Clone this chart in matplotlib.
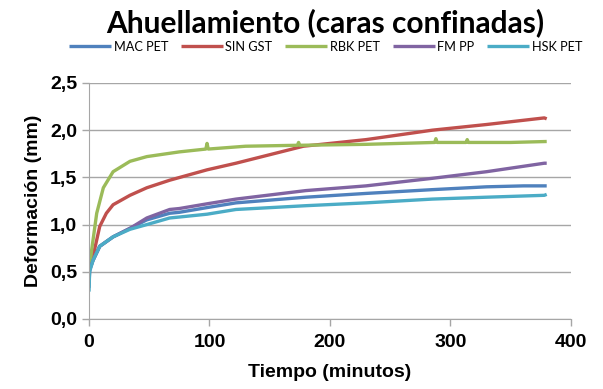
import matplotlib.pyplot as plt
from matplotlib.ticker import FuncFormatter

# valores (tiempo en minutos, deformacion en mm)
t_mac = [0, 0.5, 3.3, 8.9, 20, 34, 48, 67, 75, 98, 122, 180, 230, 285, 330, 361, 380]
d_mac = [0.33, 0.52, 0.62, 0.77, 0.87, 0.96, 1.05, 1.12, 1.13, 1.18, 1.23, 1.29, 1.33, 1.37, 1.40, 1.41, 1.41]

t_sin = [0, 0.5, 3.3, 8.9, 14.4, 20, 34, 48, 67, 98, 122, 178, 230, 285, 330, 378, 380]
d_sin = [0.50, 0.55, 0.66, 0.98, 1.12, 1.21, 1.31, 1.39, 1.47, 1.58, 1.65, 1.83, 1.90, 2.00, 2.06, 2.13, 2.12]

t_rbk = [0, 0.5, 2.2, 6.4, 11.9, 20, 34, 48, 75, 97, 98, 99, 130, 173, 174, 175, 230,
         287, 288, 289, 313, 314, 315, 350, 380]
d_rbk = [0.50, 0.55, 0.73, 1.12, 1.39, 1.56, 1.67, 1.72, 1.77, 1.80, 1.86, 1.80, 1.83, 1.84, 1.87, 1.84, 1.85,
         1.87, 1.91, 1.87, 1.87, 1.90, 1.87, 1.87, 1.88]

t_fm = [0, 0.5, 3.3, 8.9, 20, 34, 48, 67, 75, 98, 122, 180, 230, 285, 330, 378, 380]
d_fm = [0.38, 0.52, 0.62, 0.77, 0.87, 0.96, 1.07, 1.16, 1.17, 1.22, 1.27, 1.36, 1.41, 1.49, 1.56, 1.65, 1.65]

t_hsk = [0, 0.5, 3.3, 8.9, 20, 34, 48, 67, 75, 98, 122, 180, 230, 285, 330, 378, 380]
d_hsk = [0.29, 0.50, 0.62, 0.77, 0.87, 0.95, 1.00, 1.07, 1.08, 1.11, 1.16, 1.20, 1.23, 1.27, 1.29, 1.31, 1.32]

series = [
    ("MAC PET", t_mac, d_mac, "#4F81BD"),
    ("SIN GST", t_sin, d_sin, "#C0504D"),
    ("RBK PET", t_rbk, d_rbk, "#9BBB59"),
    ("FM PP", t_fm, d_fm, "#8064A2"),
    ("HSK PET", t_hsk, d_hsk, "#4BACC6"),
]

fig = plt.figure(figsize=(6.03, 3.89), dpi=100)
ax = fig.add_axes([0.1476, 0.18, 0.799, 0.6067])

for nombre, t, d, col in series:
    ax.plot(t, d, color=col, lw=2.4, label=nombre, solid_capstyle="butt")

ax.set_xlim(0, 400)
ax.set_ylim(0, 2.5)
ax.set_xticks([0, 100, 200, 300, 400])
ax.set_yticks([0, 0.5, 1.0, 1.5, 2.0, 2.5])
ax.yaxis.set_major_formatter(FuncFormatter(lambda v, p: f"{v:.1f}".replace(".", ",")))
ax.grid(axis="y", color="#A6A6A6", lw=1)
ax.set_axisbelow(True)
for s in ["top", "right"]:
    ax.spines[s].set_visible(False)
for s in ["left", "bottom"]:
    ax.spines[s].set_color("#A6A6A6")
ax.tick_params(colors="#A6A6A6", length=5, width=1, direction="out")
ax.tick_params(axis="x", pad=6)
for lab in ax.get_xticklabels() + ax.get_yticklabels():
    lab.set_color("black")
    lab.set_fontfamily("Liberation Sans")
    lab.set_fontweight("bold")
    lab.set_fontsize(14)

ax.set_xlabel("Tiempo (minutos)", fontfamily="Liberation Sans", fontweight="bold", fontsize=14, labelpad=9)
ax.set_ylabel("Deformación (mm)", fontfamily="Liberation Sans", fontweight="bold", fontsize=14, labelpad=6)

fig.text(0.54, 0.943, "Ahuellamiento (caras confinadas)", ha="center", va="center",
         fontfamily="Lato", fontweight="bold", fontsize=21.5)

fig.legend(loc="center", bbox_to_anchor=(0.54, 0.88), ncol=5, frameon=False,
           prop={"family": "Lato", "size": 9.2}, handlelength=3.3, handletextpad=0.2,
           columnspacing=1.0, borderaxespad=0)

fig.savefig("out.png", dpi=100)
